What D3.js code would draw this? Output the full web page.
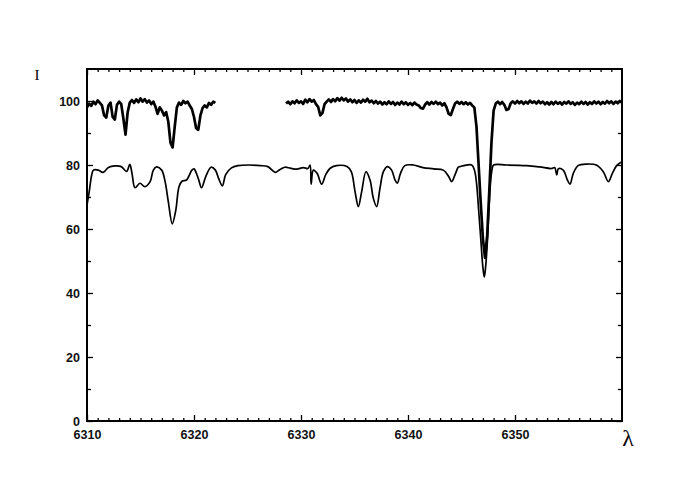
<!DOCTYPE html>
<html>
<head>
<meta charset="utf-8">
<script src="https://cdn.jsdelivr.net/npm/d3@7"></script>
<style>
  html, body { margin: 0; padding: 0; background: #fff; }
  svg { display: block; }
</style>
</head>
<body>
<svg id="chart" width="690" height="485"></svg>
<script>
// ---- data ----
const xMajorTicks = [6310, 6320, 6330, 6340, 6350];
const yMajorTicks = [0, 20, 40, 60, 80, 100];
const xLabel = "λ";
const yLabel = "I";

// upper (observed, noisy) spectrum, first segment [wavelength, intensity]
const upperLeft = [
  [6310.0,98.0],[6310.2,99.2],[6310.4,98.5],[6310.6,99.8],[6310.8,99.0],[6311.0,100.2],
  [6311.2,99.4],[6311.4,98.6],[6311.6,95.5],[6311.8,94.8],[6312.0,98.6],[6312.2,99.5],
  [6312.4,95.0],[6312.6,94.2],[6312.8,98.8],[6313.0,99.8],[6313.2,99.0],[6313.4,94.5],
  [6313.6,89.5],[6313.8,96.5],[6314.0,99.5],[6314.2,100.3],[6314.4,99.4],[6314.6,100.5],
  [6314.8,99.6],[6315.0,100.8],[6315.2,99.8],[6315.4,100.6],[6315.6,99.5],[6315.8,100.2],
  [6316.0,99.0],[6316.2,99.8],[6316.4,98.2],[6316.6,96.0],[6316.8,98.0],[6317.0,97.0],
  [6317.2,95.5],[6317.4,96.5],[6317.6,93.5],[6317.8,87.0],[6318.0,85.5],[6318.2,92.0],
  [6318.4,98.0],[6318.6,99.5],[6318.8,98.8],[6319.0,100.0],[6319.2,99.3],[6319.4,99.8],
  [6319.6,98.6],[6319.8,97.5],[6320.0,95.0],[6320.2,91.5],[6320.4,91.0],[6320.6,95.5],
  [6320.8,97.8],[6321.0,98.6],[6321.2,98.0],[6321.4,99.4],[6321.6,98.8],[6321.8,99.8],
  [6322.0,99.4]
];

// upper spectrum, second segment
const upperRight = [
  [6328.6,99.2],[6328.8,99.8],[6329.0,99.0],[6329.2,99.9],[6329.4,99.3],[6329.6,100.2],
  [6329.8,99.4],[6330.0,99.9],[6330.2,99.1],[6330.4,100.4],[6330.6,99.6],[6330.8,100.6],
  [6331.0,99.8],[6331.2,100.3],[6331.4,99.0],[6331.6,98.2],[6331.8,95.5],[6332.0,96.2],
  [6332.2,99.0],[6332.4,99.8],[6332.6,100.5],[6332.8,99.7],[6333.0,100.6],[6333.2,99.9],
  [6333.4,100.9],[6333.6,100.1],[6333.8,101.0],[6334.0,100.2],[6334.2,100.8],[6334.4,99.8],
  [6334.6,100.5],[6334.8,99.6],[6335.0,100.3],[6335.2,99.4],[6335.4,100.2],[6335.6,99.5],
  [6335.8,100.4],[6336.0,99.8],[6336.2,100.7],[6336.4,99.6],[6336.6,100.1],[6336.8,99.3],
  [6337.0,100.0],[6337.2,99.2],[6337.4,99.8],[6337.6,98.9],[6337.8,99.6],[6338.0,99.0],
  [6338.2,99.9],[6338.4,99.1],[6338.6,99.7],[6338.8,98.8],[6339.0,99.5],[6339.2,98.9],
  [6339.4,99.8],[6339.6,99.0],[6339.8,99.6],[6340.0,98.8],[6340.2,99.4],[6340.4,98.7],
  [6340.6,99.5],[6340.8,98.9],[6341.0,98.6],[6341.2,97.8],[6341.4,97.6],[6341.6,98.9],
  [6341.8,99.6],[6342.0,98.9],[6342.2,99.7],[6342.4,99.1],[6342.6,99.8],[6342.8,99.0],
  [6343.0,99.5],[6343.2,98.6],[6343.4,99.3],[6343.6,98.0],[6343.8,96.0],[6344.0,95.6],
  [6344.2,97.5],[6344.4,99.2],[6344.6,99.8],[6344.8,99.1],[6345.0,99.7],[6345.2,99.0],
  [6345.4,99.6],[6345.6,98.9],[6345.8,99.4],[6346.0,98.6],[6346.2,98.0],[6346.4,92.0],
  [6346.6,80.0],[6346.8,68.0],[6347.0,57.0],[6347.2,51.0],[6347.4,58.0],[6347.6,72.0],
  [6347.8,87.0],[6348.0,97.0],[6348.2,99.2],[6348.4,99.8],[6348.6,99.0],[6348.8,99.7],
  [6349.0,98.8],[6349.2,97.2],[6349.4,97.5],[6349.6,99.3],[6349.8,99.9],[6350.0,99.2],
  [6350.2,100.0],[6350.4,99.3],[6350.6,99.9],[6350.8,99.1],[6351.0,99.8],[6351.2,99.2],
  [6351.4,100.1],[6351.6,99.4],[6351.8,99.9],[6352.0,99.2],[6352.2,100.0],[6352.4,99.3],
  [6352.6,99.8],[6352.8,99.0],[6353.0,99.6],[6353.2,98.9],[6353.4,99.7],[6353.6,99.0],
  [6353.8,99.8],[6354.0,99.1],[6354.2,99.6],[6354.4,98.9],[6354.6,99.7],[6354.8,99.2],
  [6355.0,99.9],[6355.2,99.1],[6355.4,99.6],[6355.6,98.8],[6355.8,99.5],[6356.0,99.0],
  [6356.2,99.8],[6356.4,99.1],[6356.6,99.7],[6356.8,98.9],[6357.0,99.6],[6357.2,99.1],
  [6357.4,99.9],[6357.6,99.2],[6357.8,99.8],[6358.0,99.0],[6358.2,99.7],[6358.4,99.2],
  [6358.6,100.0],[6358.8,99.3],[6359.0,99.9],[6359.2,99.1],[6359.4,99.8],[6359.6,99.3],
  [6359.8,100.0],[6360.0,99.5]
];

// lower (smooth) spectrum
const lowerSpectrum = [
  [6310.0,67.5],[6310.2,71.5],[6310.44,76.9],[6310.6,78.4],[6311.06,78.4],[6311.5,77.7],
  [6312.0,79.2],[6312.6,79.7],[6313.2,79.5],[6313.7,78.0],[6314.0,80.2],[6314.2,77.5],
  [6314.49,72.9],[6314.95,74.3],[6315.4,73.2],[6315.9,74.8],[6316.2,78.4],[6316.5,79.4],
  [6316.98,78.4],[6317.3,74.8],[6317.6,68.5],[6317.97,61.6],[6318.3,65.9],[6318.6,73.2],
  [6318.9,75.0],[6319.3,75.3],[6319.8,78.4],[6320.0,78.8],[6320.4,75.8],[6320.7,72.9],
  [6321.1,76.4],[6321.6,79.3],[6322.0,78.4],[6322.3,75.8],[6322.65,73.5],[6322.96,77.0],
  [6323.5,79.1],[6324.1,79.8],[6325.2,80.0],[6326.2,79.8],[6326.9,79.5],[6327.6,77.7],
  [6328.0,78.5],[6328.5,79.3],[6329.0,79.0],[6329.6,78.7],[6330.2,79.2],[6330.65,78.9],
  [6330.85,80.0],[6330.95,74.0],[6331.15,78.4],[6331.5,77.4],[6331.93,74.0],[6332.3,76.9],
  [6332.7,78.9],[6333.3,79.8],[6334.3,79.5],[6334.7,77.9],[6335.05,71.7],[6335.36,67.0],
  [6335.67,71.7],[6336.07,77.9],[6336.45,75.3],[6336.76,69.6],[6337.07,67.0],[6337.38,72.7],
  [6337.7,77.9],[6338.07,79.5],[6338.47,78.4],[6338.79,75.3],[6339.0,74.3],[6339.3,77.4],
  [6339.7,79.8],[6340.5,80.0],[6341.4,79.2],[6342.4,78.8],[6343.3,78.4],[6343.8,76.4],
  [6344.08,74.8],[6344.4,77.0],[6344.7,79.3],[6344.86,79.5],[6345.95,80.0],[6346.2,78.5],
  [6346.4,74.5],[6346.6,66.0],[6346.8,57.0],[6347.0,48.0],[6347.13,45.0],[6347.25,48.0],
  [6347.4,55.0],[6347.55,65.0],[6347.7,74.0],[6347.85,78.5],[6348.0,80.0],[6349.2,80.0],
  [6351.1,79.8],[6352.3,79.4],[6353.4,78.9],[6353.7,79.2],[6353.9,76.9],[6354.05,78.8],
  [6354.5,78.4],[6354.9,75.3],[6355.14,74.0],[6355.45,77.4],[6355.9,79.8],[6356.7,80.3],
  [6357.6,80.0],[6358.25,77.9],[6358.72,74.8],[6359.1,77.4],[6359.5,79.8],[6360.0,81.0]
];

// ---- layout ----
const svg = d3.select("#chart");
const pLeft = 87, pRight = 622, pTop = 69, pBottom = 421;

const x = d3.scaleLinear().domain([6310, 6360]).range([pLeft, pRight]);
const y = d3.scaleLinear().domain([0, 110]).range([pBottom, pTop]);

svg.append("rect").attr("width", 690).attr("height", 485).attr("fill", "#fff");

const xMinor = d3.range(6311, 6360).filter(v => v % 10 !== 0);
const yMinor = [10, 30, 50, 70, 90];

const sansFont = "'Liberation Sans', Arial, Helvetica, sans-serif";

function strip(g) { g.select(".domain").remove(); g.selectAll("line").attr("stroke", "#000").attr("stroke-width", 1.3); }
function labelStyle(g) {
  g.selectAll("text").style("font-family", sansFont).style("font-size", "12.5px")
    .style("font-weight", "bold").attr("fill", "#111");
}

// bottom axis with labels
svg.append("g").attr("transform", `translate(0,${pBottom})`)
  .call(d3.axisBottom(x).tickValues(xMajorTicks).tickSize(-6).tickPadding(9).tickFormat(d3.format("d")))
  .call(strip).call(labelStyle);
svg.append("g").attr("transform", `translate(0,${pBottom})`)
  .call(d3.axisBottom(x).tickValues(xMinor).tickSize(-3).tickFormat(""))
  .call(strip);
// top axis (ticks only)
svg.append("g").attr("transform", `translate(0,${pTop})`)
  .call(d3.axisTop(x).tickValues(xMajorTicks).tickSize(-6).tickFormat(""))
  .call(strip);
svg.append("g").attr("transform", `translate(0,${pTop})`)
  .call(d3.axisTop(x).tickValues(xMinor).tickSize(-3).tickFormat(""))
  .call(strip);
// left axis with labels
svg.append("g").attr("transform", `translate(${pLeft},0)`)
  .call(d3.axisLeft(y).tickValues(yMajorTicks).tickSize(-6).tickPadding(7).tickFormat(d3.format("d")))
  .call(strip).call(labelStyle);
svg.append("g").attr("transform", `translate(${pLeft},0)`)
  .call(d3.axisLeft(y).tickValues(yMinor).tickSize(-4).tickFormat(""))
  .call(strip);
// right axis (ticks only)
svg.append("g").attr("transform", `translate(${pRight},0)`)
  .call(d3.axisRight(y).tickValues(yMajorTicks).tickSize(-6).tickFormat(""))
  .call(strip);
svg.append("g").attr("transform", `translate(${pRight},0)`)
  .call(d3.axisRight(y).tickValues(yMinor).tickSize(-4).tickFormat(""))
  .call(strip);

// clip
svg.append("clipPath").attr("id", "plot-clip")
  .append("rect").attr("x", pLeft).attr("y", pTop).attr("width", pRight - pLeft).attr("height", pBottom - pTop);

const smoothLine = d3.line().x(d => x(d[0])).y(d => y(d[1])).curve(d3.curveCatmullRom.alpha(0.5));
const noisyLine = d3.line().x(d => x(d[0])).y(d => y(d[1]));
const plot = svg.append("g").attr("clip-path", "url(#plot-clip)");

plot.append("path").datum(lowerSpectrum).attr("d", smoothLine)
  .attr("fill", "none").attr("stroke", "#000").attr("stroke-width", 1.7).attr("stroke-linejoin", "round");
[upperLeft, upperRight].forEach(seg => {
  plot.append("path").datum(seg).attr("d", noisyLine)
    .attr("fill", "none").attr("stroke", "#000").attr("stroke-width", 2.7).attr("stroke-linejoin", "round");
});

// frame
svg.append("rect").attr("x", pLeft).attr("y", pTop).attr("width", pRight - pLeft).attr("height", pBottom - pTop)
  .attr("fill", "none").attr("stroke", "#000").attr("stroke-width", 2);

// axis titles
svg.append("text").attr("x", 37).attr("y", 80).attr("text-anchor", "middle")
  .style("font-family", "'Liberation Serif', 'Times New Roman', serif").style("font-size", "15px").text(yLabel);
svg.append("text").attr("x", 628).attr("y", 446).attr("text-anchor", "middle")
  .style("font-family", "'Liberation Serif', 'DejaVu Serif', serif").style("font-size", "24px").text(xLabel);
</script>
</body>
</html>
